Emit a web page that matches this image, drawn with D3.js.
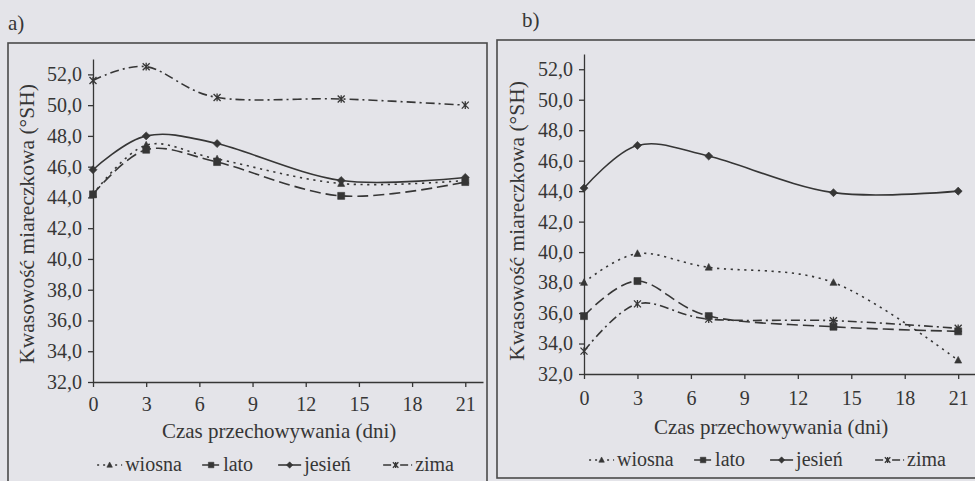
<!DOCTYPE html>
<html>
<head>
<meta charset="utf-8">
<script src="https://cdn.jsdelivr.net/npm/d3@7"></script>
</head>
<body style="margin:0;background:#e4e4e9">
<svg id="chart" width="975" height="481" style="display:block;background:#e4e4e9"></svg>
<script>
// Storage time (days) at which titratable acidity was measured
const days = [0, 3, 7, 14, 21];
const xTicks = [0, 3, 6, 9, 12, 15, 18, 21];
const yTicks = [32, 34, 36, 38, 40, 42, 44, 46, 48, 50, 52];
const seasons = ["wiosna", "lato", "jesień", "zima"];

// Panel a) – titratable acidity (°SH)
const panelA_wiosna = [44.2, 47.4, 46.5, 44.9, 45.1];
const panelA_lato   = [44.2, 47.1, 46.3, 44.1, 45.0];
const panelA_jesien = [45.8, 48.0, 47.5, 45.1, 45.3];
const panelA_zima   = [51.6, 52.5, 50.5, 50.4, 50.0];

// Panel b) – titratable acidity (°SH)
const panelB_wiosna = [38.0, 39.9, 39.0, 38.0, 32.9];
const panelB_lato   = [35.8, 38.1, 35.8, 35.1, 34.8];
const panelB_jesien = [44.2, 47.0, 46.3, 43.9, 44.0];
const panelB_zima   = [33.5, 36.6, 35.6, 35.5, 35.0];

const ink = "#363636";
const face = '"Times New Roman"';
const svg = d3.select("#chart");

// Line, marker and legend-key style per season
const styles = {
  "wiosna": { dash: "2.2,4.6", legendDash: "2,4",     marker: "triangle", keyX: -182, keyW: 25 },
  "lato":   { dash: "11,5",    legendDash: "7,3",     marker: "square",   keyX: -77,  keyW: 18 },
  "jesień": { dash: null,      legendDash: null,      marker: "diamond",  keyX: -1,   keyW: 23 },
  "zima":   { dash: "9,4,2,4", legendDash: "8,3,3,3", marker: "star",     keyX: 104,  keyW: 29 }
};

function markerPath(kind, s) {
  const h = s / 2;
  switch (kind) {
    case "triangle": return `M0,${-h * 1.1}L${h},${h * 0.8}L${-h},${h * 0.8}Z`;
    case "square":   return `M${-h},${-h}H${h}V${h}H${-h}Z`;
    case "diamond":  return `M0,${-h * 1.15}L${h * 1.15},0L0,${h * 1.15}L${-h * 1.15},0Z`;
    case "star":     return `M${-h},${-h}L${h},${h}M${-h},${h}L${h},${-h}M0,${-h * 1.1}V${h * 1.1}`;
  }
}

function drawMarker(g, kind, x, y, s) {
  g.append("path")
    .attr("d", markerPath(kind, s))
    .attr("transform", `translate(${x},${y})`)
    .attr("fill", kind === "star" ? "none" : ink)
    .attr("stroke", ink)
    .attr("stroke-width", kind === "star" ? 1.3 : 0.6);
}

const fmt = v => d3.format(".1f")(v).replace(".", ",");

// labels in a Times-style serif
function label(sel, size) {
  return sel
    .style("font-family", face)
    .attr("font-size", size)
    .attr("fill", ink);
}

function drawPanel(cfg) {
  const g = svg.append("g");

  // outer frame
  g.append("rect")
    .attr("x", cfg.frame[0]).attr("y", cfg.frame[1])
    .attr("width", cfg.frame[2]).attr("height", cfg.frame[3])
    .attr("fill", "none").attr("stroke", "#4a4a4a").attr("stroke-width", 1.6);

  // panel letter
  label(svg.append("text"), 21)
    .attr("x", cfg.letterPos[0]).attr("y", cfg.letterPos[1])
    .text(cfg.letter);

  const x = d3.scaleLinear().domain([0, 22]).range(cfg.xRange);
  const y = d3.scaleLinear().domain([32, 53]).range(cfg.yRange);

  // axes
  const yAxis = g.append("g")
    .attr("transform", `translate(${cfg.xRange[0]},0)`)
    .call(d3.axisLeft(y).tickValues(yTicks).tickFormat(fmt)
      .tickSize(5).tickSizeOuter(0).tickPadding(6));
  const xAxis = g.append("g")
    .attr("transform", `translate(0,${cfg.yRange[0]})`)
    .call(d3.axisBottom(x).tickValues(xTicks).tickFormat(d3.format("d"))
      .tickSize(5).tickSizeOuter(0).tickPadding(cfg.xTickPad));
  [xAxis, yAxis].forEach(a => {
    a.attr("font-family", null).attr("font-size", null);
    a.selectAll("path, line").attr("stroke", ink).attr("stroke-width", 1.3);
    label(a.selectAll("text"), 20);
  });

  // axis titles
  label(svg.append("text"), 21)
    .attr("x", x(10.5)).attr("y", cfg.xTitleY)
    .attr("text-anchor", "middle")
    .text("Czas przechowywania (dni)");
  label(svg.append("text"), 21.5)
    .attr("transform", `translate(${cfg.yTitlePos[0]},${cfg.yTitlePos[1]}) rotate(-90)`)
    .attr("text-anchor", "middle")
    .text("Kwasowość miareczkowa (°SH)");

  // smoothed series lines with markers
  const line = d3.line()
    .x((d, i) => x(days[i]))
    .y(d => y(d))
    .curve(d3.curveCardinal.tension(0));

  seasons.forEach((name, k) => {
    const vals = cfg.series[k];
    const st = styles[name];
    g.append("path")
      .datum(vals)
      .attr("d", line)
      .attr("fill", "none")
      .attr("stroke", ink)
      .attr("stroke-width", 1.6)
      .attr("stroke-dasharray", st.dash);
    vals.forEach((v, i) => drawMarker(g, st.marker, x(days[i]), y(v), 7));
  });

  // legend, centred under the plotted days
  const legX = x(10.5);
  seasons.forEach(name => {
    const st = styles[name];
    const x0 = legX + st.keyX;
    g.append("line")
      .attr("x1", x0).attr("x2", x0 + st.keyW)
      .attr("y1", cfg.legendY - 6).attr("y2", cfg.legendY - 6)
      .attr("stroke", ink).attr("stroke-width", 1.6)
      .attr("stroke-dasharray", st.legendDash);
    drawMarker(g, st.marker, x0 + st.keyW / 2 - (name === "zima" ? 2 : 0), cfg.legendY - 6, 5.5);
    label(svg.append("text"), 20)
      .attr("x", x0 + st.keyW + 3).attr("y", cfg.legendY)
      .text(name);
  });
}

drawPanel({
  letter: "a)", letterPos: [8, 30],
  frame: [8, 43, 479, 450],
  xRange: [93, 483], yRange: [382, 59],
  xTickPad: 10, xTitleY: 438, yTitlePos: [34, 224], legendY: 471,
  series: [panelA_wiosna, panelA_lato, panelA_jesien, panelA_zima]
});

drawPanel({
  letter: "b)", letterPos: [522, 27],
  frame: [497, 40, 490, 438],
  xRange: [584, 976], yRange: [374, 54],
  xTickPad: 12, xTitleY: 434, yTitlePos: [524, 221], legendY: 466,
  series: [panelB_wiosna, panelB_lato, panelB_jesien, panelB_zima]
});
</script>
</body>
</html>
